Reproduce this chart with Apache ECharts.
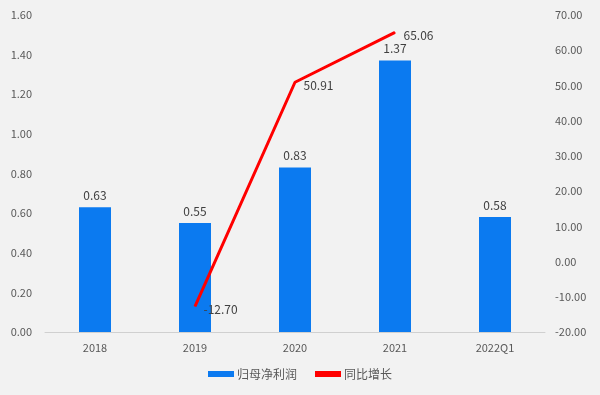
<!DOCTYPE html>
<html><head><meta charset="utf-8">
<script src="https://cdn.jsdelivr.net/npm/echarts@6/dist/echarts.min.js"></script>
<style>html,body{margin:0;padding:0;background:#fff}#c{width:600px;height:395px}</style>
</head><body><div id="c"></div>
<script>
const categories = ['2018','2019','2020','2021','2022Q1'];
const profit = [0.63, 0.55, 0.83, 1.37, 0.58];
const growth = [null, -12.70, 50.91, 65.06, null];
const leftTicks = {min:0, max:1.6, interval:0.2};
const rightTicks = {min:-20, max:70, interval:10};

const chart = echarts.init(document.getElementById('c'));
const font = "'Microsoft YaHei','Noto Sans CJK SC','Noto Sans',sans-serif";
chart.setOption({
  backgroundColor:'#f2f2f2',
  animation:false,
  textStyle:{fontFamily:font},
  grid:{left:45,right:55,top:15,bottom:63},
  legend:{bottom:10,left:'center',itemWidth:26,itemHeight:6,itemGap:18,
    textStyle:{color:'#595959',fontSize:12,fontFamily:font,padding:[0,0,0,-2]},
    data:[{name:'归母净利润',icon:'rect'},{name:'同比增长',icon:'rect'}]},
  xAxis:{type:'category',data:categories,
    axisLine:{lineStyle:{color:'#d0d0d0'}},axisTick:{show:false},
    axisLabel:{color:'#595959',fontSize:11,margin:10}},
  yAxis:[
    {type:'value',min:leftTicks.min,max:leftTicks.max,interval:leftTicks.interval,
     splitLine:{show:false},axisLine:{show:false},axisTick:{show:false},
     axisLabel:{color:'#595959',fontSize:11,formatter:v=>v.toFixed(2),margin:13}},
    {type:'value',min:rightTicks.min,max:rightTicks.max,interval:rightTicks.interval,
     splitLine:{show:false},axisLine:{show:false},axisTick:{show:false},
     axisLabel:{color:'#595959',fontSize:11,formatter:v=>v.toFixed(2),margin:10}}
  ],
  series:[
    {name:'归母净利润',type:'bar',data:profit,barWidth:32,
     itemStyle:{color:'#0b7af0'},
     label:{show:true,position:'top',color:'#404040',fontSize:12,distance:6,formatter:p=>p.value.toFixed(2)}},
    {name:'同比增长',type:'line',yAxisIndex:1,data:growth,connectNulls:false,
     showSymbol:true,symbol:'circle',symbolSize:1,
     lineStyle:{color:'#ff0000',width:3},itemStyle:{color:'#ff0000'},
     label:{show:true,position:'right',color:'#404040',fontSize:12,distance:6,offset:[2,3],
       formatter:p=>p.value==null?'':Number(p.value).toFixed(2)}}
  ]
});
</script></body></html>
